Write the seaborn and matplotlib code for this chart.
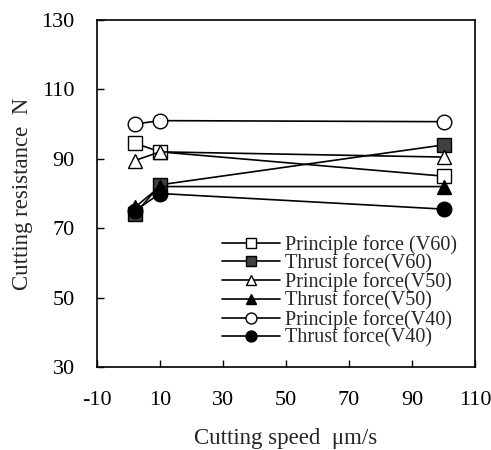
import matplotlib
matplotlib.use("Agg")
import matplotlib.pyplot as plt
import seaborn as sns
import pandas as pd

# cutting speed (um/s)
speed = [2, 10, 100]

principle_v60 = [94.5, 92, 85]
thrust_v60 = [74, 82.5, 94]
principle_v50 = [89.5, 92, 90.5]
thrust_v50 = [76, 82, 82]
principle_v40 = [100, 101, 100.7]
thrust_v40 = [75, 80, 75.5]

labels = ["Principle force (V60)", "Thrust force(V60)", "Principle force(V50)",
          "Thrust force(V50)", "Principle force(V40)", "Thrust force(V40)"]
series = [principle_v60, thrust_v60, principle_v50, thrust_v50, principle_v40, thrust_v40]

rows = []
for lab, vals in zip(labels, series):
    for x, y in zip(speed, vals):
        rows.append({"speed": x, "force": y, "series": lab})
df = pd.DataFrame(rows)

sns.set_style("ticks")
plt.rcParams["font.family"] = ["Liberation Serif", "DejaVu Serif"]
plt.rcParams["axes.unicode_minus"] = False

markers = ["s", "s", "^", "^", "o", "o"]
faces = ["white", "#404040", "white", "black", "white", "black"]

fig = plt.figure(figsize=(4.91, 4.5), dpi=100)
ax = fig.add_axes([97 / 491, 1 - 367 / 450, 378 / 491, 347 / 450])

for lab, m, fc in zip(labels, markers, faces):
    sns.lineplot(data=df[df["series"] == lab], x="speed", y="force", ax=ax,
                 color="black", linewidth=1.2, marker=m, markersize=10.5,
                 markerfacecolor=fc, markeredgecolor="black", markeredgewidth=1.0,
                 label=lab)

ax.set_xlim(-10, 110)
ax.set_ylim(30, 130)
ax.set_xticks(range(-10, 111, 20))
ax.set_yticks(range(30, 131, 20))
ax.tick_params(direction="in", length=5, width=1, labelsize=16, colors="black")
ax.tick_params(axis="x", pad=17)
ax.tick_params(axis="y", pad=16)
for s in ax.spines.values():
    s.set_visible(True)
    s.set_linewidth(1.2)
    s.set_color("black")

ax.set_xlabel("Cutting speed  \u03bcm/s", fontsize=16.5, labelpad=13)
ax.set_ylabel("Cutting resistance  N", fontsize=16.5, labelpad=6)

ax.legend(loc="lower right", bbox_to_anchor=(0.985, 0.02), frameon=False, fontsize=14.5,
          handlelength=2.9, handletextpad=0.25, labelspacing=-0.05, markerscale=0.75,
          borderaxespad=0.2)

fig.savefig("out.png", dpi=100)
